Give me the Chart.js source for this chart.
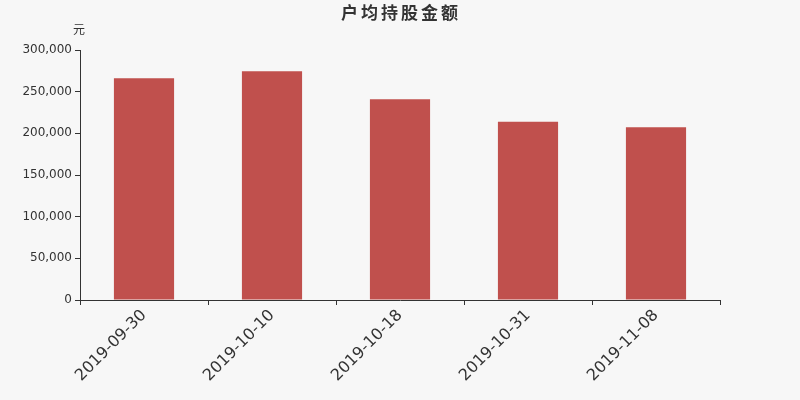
<!DOCTYPE html>
<html>
<head>
<meta charset="utf-8">
<script src="https://cdn.jsdelivr.net/npm/chart.js@4/dist/chart.umd.min.js"></script>
<style>
html,body{margin:0;padding:0;background:#f7f7f7;}
#wrap{width:800px;height:400px;position:relative;}
</style>
</head>
<body>
<div id="wrap"><canvas id="c" width="800" height="400"></canvas></div>
<script>
const categories = ['2019-09-30','2019-10-10','2019-10-18','2019-10-31','2019-11-08'];
const values = [266000, 274400, 240800, 214000, 207200];
const titleText = '户均持股金额';
const unitText = '元';
const yMin = 0, yMax = 300000, yStep = 50000;

const textColor = '#333333';
const barColor = '#c0504d';
const fontFamily = '"DejaVu Sans", "Noto Sans CJK SC", sans-serif';

const overlay = {
  id: 'overlay',
  beforeDraw(chart) {
    const ctx = chart.ctx;
    ctx.save();
    ctx.fillStyle = '#f7f7f7';
    ctx.fillRect(0, 0, chart.width, chart.height);
    ctx.restore();
  },
  afterDraw(chart) {
    const ctx = chart.ctx;
    ctx.save();
    ctx.fillStyle = textColor;
    ctx.textAlign = 'center';
    ctx.textBaseline = 'middle';
    ctx.font = 'bold 17px "Noto Sans CJK SC", sans-serif';
    try { ctx.letterSpacing = '3px'; } catch (e) {}
    ctx.fillText(titleText, 401, 13);
    try { ctx.letterSpacing = '0px'; } catch (e) {}
    ctx.font = '12px "Noto Sans CJK SC", sans-serif';
    ctx.textAlign = 'right';
    ctx.fillText(unitText, 85, 29);
    ctx.restore();
  }
};

new Chart(document.getElementById('c'), {
  type: 'bar',
  data: {
    labels: categories,
    datasets: [{
      data: values,
      backgroundColor: barColor,
      borderWidth: 0,
      categoryPercentage: 1.0,
      barPercentage: 0.47
    }]
  },
  options: {
    responsive: false,
    animation: false,
    devicePixelRatio: 1,
    layout: { padding: { top: 50, right: 80, left: 0, bottom: 0 } },
    plugins: { legend: { display: false }, title: { display: false }, tooltip: { enabled: false } },
    scales: {
      x: {
        offset: true,
        grid: { display: true, drawOnChartArea: false, drawTicks: true, tickLength: 5, color: textColor, offset: true },
        border: { display: true, color: textColor, width: 1 },
        ticks: { color: textColor, font: { size: 16, family: fontFamily }, maxRotation: 45, minRotation: 45, padding: 1 },
        afterFit(scale) { scale.height = 100; }
      },
      y: {
        min: yMin, max: yMax,
        grid: { display: true, drawOnChartArea: false, drawTicks: true, tickLength: 5, color: textColor },
        border: { display: true, color: textColor, width: 1 },
        ticks: {
          stepSize: yStep, color: textColor, font: { size: 12, family: fontFamily }, padding: 3,
          callback: v => v.toLocaleString('en-US')
        },
        afterFit(scale) { scale.width = 80; }
      }
    }
  },
  plugins: [overlay]
});
</script>
</body>
</html>
